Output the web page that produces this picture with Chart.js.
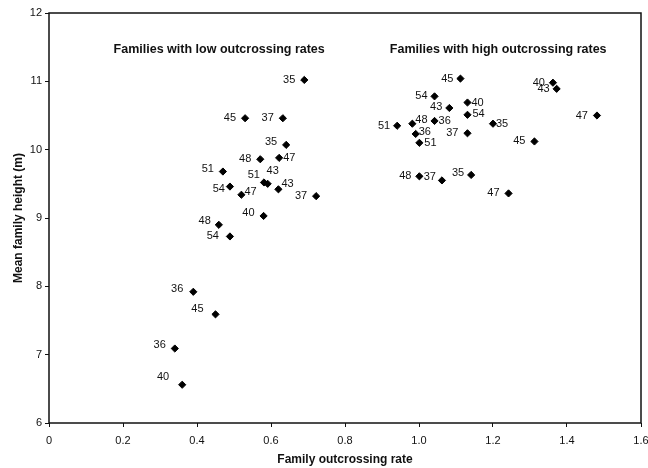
<!doctype html>
<html lang="en">
<head>
<meta charset="utf-8">
<title>Family height vs outcrossing rate</title>
<script src="https://cdn.jsdelivr.net/npm/chart.js@4.4.0/dist/chart.umd.min.js"></script>
<style>
  html, body { margin: 0; padding: 0; background: #fff; }
  #wrap { width: 648px; height: 468px; }
</style>
</head>
<body>
<div id="wrap"><canvas id="myChart" width="648" height="468"></canvas></div>
<script>
// families with low outcrossing rates
var lowFamily = ['35', '45', '37', '35', '48', '47', '51', '51', '43', '54', '47', '43', '37', '40', '48', '54', '36', '45', '36', '40'];
var lowRate   = [0.69, 0.53, 0.632, 0.641, 0.571, 0.622, 0.47, 0.581, 0.591, 0.489, 0.52, 0.62, 0.722, 0.58, 0.459, 0.489, 0.39, 0.45, 0.34, 0.36];
var lowHeight = [11.02, 10.46, 10.46, 10.07, 9.86, 9.88, 9.68, 9.52, 9.50, 9.46, 9.34, 9.42, 9.32, 9.03, 8.90, 8.73, 7.92, 7.59, 7.09, 6.56];

// families with high outcrossing rates
var highFamily = ['45', '40', '43', '54', '40', '43', '54', '47', '51', '48', '36', '35', '36', '37', '45', '51', '48', '37', '35', '47'];
var highRate   = [1.112, 1.362, 1.372, 1.042, 1.131, 1.082, 1.131, 1.481, 0.941, 0.982, 1.042, 1.2, 0.991, 1.131, 1.312, 1.001, 1.001, 1.062, 1.141, 1.242];
var highHeight = [11.04, 10.98, 10.89, 10.78, 10.69, 10.61, 10.51, 10.50, 10.35, 10.38, 10.42, 10.38, 10.23, 10.24, 10.12, 10.10, 9.61, 9.55, 9.63, 9.36];

var groupTitles = ['Families with low outcrossing rates', 'Families with high outcrossing rates'];

var xTicks = [0, 0.2, 0.4, 0.6, 0.8, 1, 1.2, 1.4, 1.6];
var yTicks = [6, 7, 8, 9, 10, 11, 12];

// where each family number sits next to its diamond: [side, dx, dy]
var lowLabelPos = [
  ['l', -9, 0], ['l', -9, 0], ['l', -9, 0], ['l', -9, -3], ['l', -9, 0],
  ['r', 4, 0], ['l', -9, -3], ['l', -4, -7], ['c', 5, -13], ['l', -5, 2],
  ['r', 3, -3], ['r', 3, -5], ['l', -9, 0], ['l', -9, -3], ['l', -8, -4],
  ['l', -11, 0], ['l', -10, -3], ['l', -12, -5], ['l', -9, -4], ['l', -13, -8]
];
var highLabelPos = [
  ['l', -7, 0], ['l', -8, 0], ['l', -7, 0], ['l', -7, 0], ['r', 4, 0],
  ['l', -7, -1], ['r', 5, -1], ['l', -9, 0], ['l', -7, 0], ['r', 3, -4],
  ['r', 4, 0], ['r', 3, 0], ['r', 3, -2], ['l', -9, 0], ['l', -9, 0],
  ['r', 5, 0], ['l', -8, 0], ['l', -6, -3], ['l', -7, -2], ['l', -9, 0]
];

function toPoints(xs, ys) {
  var pts = [];
  for (var i = 0; i < xs.length; i++) pts.push({x: xs[i], y: ys[i]});
  return pts;
}

var FONT = "'Liberation Sans', Arial, sans-serif";

// family labels, group headings and the box round the plot
var labelPlugin = {
  id: 'familyLabels',
  afterDatasetsDraw: function(chart) {
    var ctx = chart.ctx;
    var xs = chart.scales.x, ys = chart.scales.y;
    var sets = [[lowFamily, lowLabelPos], [highFamily, highLabelPos]];
    ctx.save();
    ctx.fillStyle = '#111';
    ctx.font = '11px ' + FONT;
    ctx.textBaseline = 'middle';
    sets.forEach(function(s, di) {
      var meta = chart.getDatasetMeta(di);
      meta.data.forEach(function(pt, i) {
        var p = s[1][i];
        ctx.textAlign = p[0] === 'l' ? 'right' : (p[0] === 'r' ? 'left' : 'center');
        ctx.fillText(s[0][i], pt.x + p[1], pt.y + p[2]);
      });
    });
    ctx.font = 'bold 12.5px ' + FONT;
    ctx.textAlign = 'center';
    ctx.fillText(groupTitles[0], xs.getPixelForValue(0.46), ys.getPixelForValue(11.46));
    ctx.fillText(groupTitles[1], xs.getPixelForValue(1.214), ys.getPixelForValue(11.46));

    var a = chart.chartArea;
    ctx.strokeStyle = '#111';
    ctx.lineWidth = 1.5;
    ctx.strokeRect(a.left, a.top, a.right - a.left, a.bottom - a.top);
    ctx.restore();
  }
};

var ctx = document.getElementById('myChart').getContext('2d');
var chart = new Chart(ctx, {
  type: 'scatter',
  data: {
    datasets: [{
      label: 'Low outcrossing',
      data: toPoints(lowRate, lowHeight),
      pointStyle: 'rectRot',
      pointRadius: 3.6,
      backgroundColor: '#000',
      borderColor: '#000',
      borderWidth: 1
    }, {
      label: 'High outcrossing',
      data: toPoints(highRate, highHeight),
      pointStyle: 'rectRot',
      pointRadius: 3.6,
      backgroundColor: '#000',
      borderColor: '#000',
      borderWidth: 1
    }]
  },
  options: {
    responsive: false,
    animation: false,
    events: [],
    layout: { padding: { top: 13, right: 7, left: 0, bottom: 0 } },
    plugins: {
      legend: { display: false },
      tooltip: { enabled: false }
    },
    scales: {
      x: {
        type: 'linear',
        min: xTicks[0],
        max: xTicks[xTicks.length - 1],
        afterBuildTicks: function(scale) {
          scale.ticks = xTicks.map(function(v) { return {value: v}; });
        },
        afterFit: function(scale) {
          scale.height = 45;
          scale.paddingLeft = 0;
          scale.paddingRight = 0;
        },
        grid: { display: true, drawOnChartArea: false, drawTicks: true, tickLength: 4, color: '#111' },
        border: { display: false },
        ticks: { color: '#111', font: { family: FONT, size: 11 }, padding: 7, maxRotation: 0 },
        title: { display: true, text: 'Family outcrossing rate', color: '#111',
                 font: { family: FONT, size: 12, weight: 'bold' }, padding: { top: 0, bottom: 1 } }
      },
      y: {
        type: 'linear',
        min: yTicks[0],
        max: yTicks[yTicks.length - 1],
        afterBuildTicks: function(scale) {
          scale.ticks = yTicks.map(function(v) { return {value: v}; });
        },
        afterFit: function(scale) {
          scale.width = 49;
          scale.paddingTop = 0;
          scale.paddingBottom = 0;
        },
        grid: { display: true, drawOnChartArea: false, drawTicks: true, tickLength: 4, color: '#111' },
        border: { display: false },
        ticks: { color: '#111', font: { family: FONT, size: 11 }, padding: 3 },
        title: { display: true, text: 'Mean family height (m)', color: '#111',
                 font: { family: FONT, size: 12, weight: 'bold' }, padding: { top: 11, bottom: 0 } }
      }
    }
  },
  plugins: [labelPlugin]
});
</script>
</body>
</html>
